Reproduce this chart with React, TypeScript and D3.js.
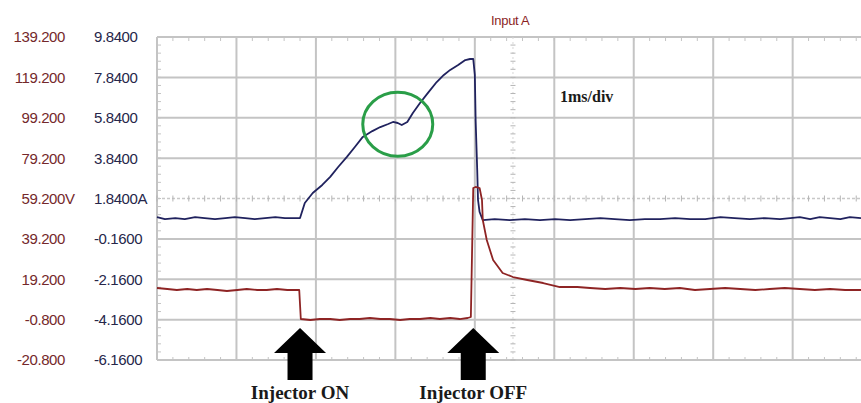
import React from "react";
import * as d3 from "d3";

const WIDTH = 861;
const HEIGHT = 403;

// time in ms from the left edge of the screen, 1 ms per division
const divisionMs = [0, 1, 2, 3, 4, 5, 6, 7, 8];
const triggerMs = 4.48;

const voltTicks = [139.2, 119.2, 99.2, 79.2, 59.2, 39.2, 19.2, -0.8, -20.8];
const voltLabels = ["139.200", "119.200", "99.200", "79.200", "59.200", "39.200", "19.200", "-0.800", "-20.800"];
const ampTicks = [9.84, 7.84, 5.84, 3.84, 1.84, -0.16, -2.16, -4.16, -6.16];
const ampLabels = ["9.8400", "7.8400", "5.8400", "3.8400", "1.8400", "-0.1600", "-2.1600", "-4.1600", "-6.1600"];

// [ms, A]
const currentTrace: [number, number][] = [
  [0.0, 0.92], [0.1, 0.82], [0.23, 0.87], [0.35, 0.82], [0.48, 0.92], [0.6, 0.87],
  [0.73, 0.82], [0.86, 0.87], [0.98, 0.92], [1.11, 0.87], [1.23, 0.82], [1.36, 0.87],
  [1.49, 0.92], [1.61, 0.87], [1.74, 0.87], [1.8, 0.87], [1.86, 1.62], [1.96, 2.11],
  [2.08, 2.51], [2.18, 2.91], [2.28, 3.4], [2.39, 3.9], [2.49, 4.39], [2.59, 4.89],
  [2.71, 5.18], [2.81, 5.38], [2.91, 5.53], [2.97, 5.63], [3.03, 5.58], [3.08, 5.48],
  [3.15, 5.63], [3.22, 6.08], [3.31, 6.57], [3.41, 7.07], [3.52, 7.61], [3.61, 7.96],
  [3.69, 8.21], [3.79, 8.45], [3.88, 8.7], [3.94, 8.75], [3.98, 8.75], [4.0, 7.96],
  [4.01, 5.73], [4.03, 3.25], [4.04, 1.77], [4.06, 1.17], [4.1, 0.77], [4.25, 0.82],
  [4.44, 0.77], [4.63, 0.82], [4.82, 0.77], [5.01, 0.82], [5.2, 0.77], [5.39, 0.82],
  [5.58, 0.87], [5.76, 0.82], [5.95, 0.77], [6.14, 0.82], [6.33, 0.82], [6.52, 0.87],
  [6.71, 0.82], [6.9, 0.82], [7.09, 0.92], [7.27, 0.87], [7.46, 0.82], [7.65, 0.87],
  [7.84, 0.82], [7.97, 0.87], [8.09, 0.92], [8.22, 0.82], [8.34, 0.92], [8.47, 0.87],
  [8.6, 0.82], [8.72, 0.92], [8.86, 0.87],
];

// [ms, V]
const voltageTrace: [number, number][] = [
  [0.0, 14.87], [0.13, 14.37], [0.25, 13.87], [0.38, 14.37], [0.5, 13.87], [0.63, 14.37],
  [0.76, 13.87], [0.88, 13.38], [1.01, 13.87], [1.13, 14.37], [1.26, 13.87], [1.38, 13.87],
  [1.51, 14.37], [1.64, 13.87], [1.76, 13.87], [1.79, 13.87], [1.81, -0.5], [1.93, -0.99],
  [2.05, -0.5], [2.18, -0.5], [2.3, -0.99], [2.43, -0.5], [2.55, -0.5], [2.68, 0.0],
  [2.81, -0.5], [2.93, -0.5], [3.06, -0.99], [3.18, -0.5], [3.31, -0.5], [3.44, 0.0],
  [3.56, -0.5], [3.69, 0.0], [3.81, -0.5], [3.91, 0.0], [3.95, 0.5], [3.98, 64.4],
  [4.01, 64.9], [4.06, 64.4], [4.09, 58.46], [4.1, 48.55], [4.15, 38.64], [4.23, 28.73],
  [4.35, 22.3], [4.48, 20.31], [4.66, 18.83], [4.86, 17.34], [5.07, 15.36], [5.29, 15.36],
  [5.45, 14.87], [5.64, 14.37], [5.83, 14.87], [6.02, 14.37], [6.2, 14.87], [6.39, 14.37],
  [6.58, 14.87], [6.77, 13.87], [6.96, 14.37], [7.15, 14.87], [7.34, 14.37], [7.53, 13.87],
  [7.71, 14.37], [7.9, 14.87], [8.09, 14.37], [8.28, 13.87], [8.47, 14.37], [8.66, 13.87],
  [8.86, 13.87],
];

const injectorEvents = [
  { label: "Injector ON", ms: 1.8 },
  { label: "Injector OFF", ms: 3.98 },
];
const highlight = { ms: 3.03, amps: 5.52 };

const GRID = "#c4c4c4";
const SERIF = "'Liberation Serif', 'Times New Roman', serif";

export default function App() {
  const x = d3.scaleLinear().domain([0, 8.86]).range([157, 861]);
  const yV = d3.scaleLinear().domain([-20.8, 139.2]).range([360, 37]);
  const yA = d3.scaleLinear().domain([-6.16, 9.84]).range([360, 37]);

  const currentLine = d3
    .line<[number, number]>()
    .x((d) => x(d[0]))
    .y((d) => yA(d[1]));
  const voltageLine = d3
    .line<[number, number]>()
    .x((d) => x(d[0]))
    .y((d) => yV(d[1]));

  const top = yV(139.2);
  const bottom = yV(-20.8);
  const left = x(0);
  const right = x(8.86);
  const centerY = yV(59.2);
  const centerX = x(triggerMs);

  // minor ticks, 5 per division
  const minorMs = d3.range(0, 8.86, 0.2);
  const minorV = d3.range(-20.8, 139.2, 4);

  return (
    <div style={{ position: "absolute", left: 0, top: 0 }}>
      <svg width={WIDTH} height={HEIGHT} style={{ display: "block", background: "#fff" }}>
        {/* grid */}
        <g>
          {divisionMs.map((t) => (
            <line key={"v" + t} x1={x(t)} x2={x(t)} y1={top} y2={bottom} stroke={GRID} strokeWidth={2} />
          ))}
          {voltTicks
            .filter((v) => v !== 59.2)
            .map((v) => (
              <line key={"h" + v} x1={left} x2={right} y1={yV(v)} y2={yV(v)} stroke={GRID} strokeWidth={2} />
            ))}
          <line x1={left} x2={right} y1={centerY} y2={centerY} stroke="#c8c8c8" strokeWidth={1.5} strokeDasharray="3,2" />
          <line x1={centerX} x2={centerX} y1={top} y2={bottom} stroke="#d6d6d6" strokeWidth={1} strokeDasharray="2,3" />
          {minorMs.map((t) => (
            <g key={"mt" + t}>
              <line x1={x(t)} x2={x(t)} y1={top} y2={top + 4} stroke={GRID} strokeWidth={1} />
              <line x1={x(t)} x2={x(t)} y1={centerY - 3} y2={centerY + 3} stroke="#b5b5b5" strokeWidth={1} />
              <line x1={x(t)} x2={x(t)} y1={bottom - 3} y2={bottom} stroke={GRID} strokeWidth={1} />
            </g>
          ))}
          {minorV.map((v) => (
            <g key={"mv" + v}>
              <line x1={left} x2={left + 4} y1={yV(v)} y2={yV(v)} stroke={GRID} strokeWidth={1} />
              <line x1={centerX - 2.5} x2={centerX + 2.5} y1={yV(v)} y2={yV(v)} stroke="#b5b5b5" strokeWidth={1} />
            </g>
          ))}
        </g>

        {/* axis labels */}
        <g fontFamily="'Liberation Sans', Arial, sans-serif" fontSize={15} letterSpacing={-0.4}>
          {voltTicks.map((v, i) => (
            <g key={"vl" + v}>
              <text x={65} y={yV(v) + 1.5} textAnchor="end" dominantBaseline="middle" fill="#74282b">
                {voltLabels[i]}
              </text>
              {v === 59.2 && (
                <text x={65} y={yV(v) + 1.5} dominantBaseline="middle" fill="#74282b">
                  V
                </text>
              )}
            </g>
          ))}
          {ampTicks.map((a, i) => (
            <text key={"al" + a} x={94} y={yA(a) + 1.5} dominantBaseline="middle" fill="#26264a">
              {ampLabels[i]}
              {a === 1.84 ? "A" : ""}
            </text>
          ))}
        </g>

        <text x={491} y={25} fontFamily="'Liberation Sans', Arial, sans-serif" fontSize={13} fill="#8b1f1f" letterSpacing={-0.3}>
          Input A
        </text>

        {/* traces */}
        <path d={currentLine(currentTrace) || ""} fill="none" stroke="#20225e" strokeWidth={1.8} strokeLinejoin="round" />
        <path d={voltageLine(voltageTrace) || ""} fill="none" stroke="#8e2424" strokeWidth={1.8} strokeLinejoin="round" />

        {/* annotations */}
        <ellipse
          cx={x(highlight.ms)}
          cy={yA(highlight.amps)}
          rx={35}
          ry={32}
          fill="none"
          stroke="#2a9e48"
          strokeWidth={3}
        />
        <text x={560} y={102} fontFamily={SERIF} fontSize={16} fontWeight="bold" fill="#1a1a1a">
          1ms/div
        </text>
        {injectorEvents.map((e) => {
          const cx = x(e.ms);
          const arrow = [
            [cx, 328],
            [cx + 26, 353],
            [cx + 12.5, 353],
            [cx + 12.5, 380],
            [cx - 12.5, 380],
            [cx - 12.5, 353],
            [cx - 26, 353],
          ]
            .map((p) => p.join(","))
            .join(" ");
          return (
            <g key={e.label}>
              <polygon points={arrow} fill="#000" />
              <text x={cx} y={399} textAnchor="middle" fontFamily={SERIF} fontSize={19} fontWeight="bold" fill="#1a1a1a">
                {e.label}
              </text>
            </g>
          );
        })}
      </svg>
    </div>
  );
}
